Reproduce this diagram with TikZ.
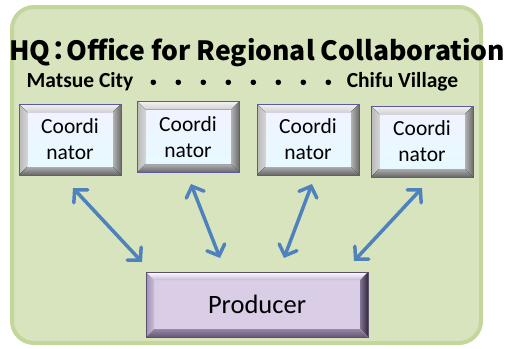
\documentclass[tikz,border=0pt]{standalone}
\usepackage{fontspec}
\usepackage{graphicx}
\setmainfont{Carlito}
\newfontfamily\cjk{Noto Sans CJK JP}
\usetikzlibrary{arrows.meta}
\definecolor{bgfill}{HTML}{D7E4BD}
\definecolor{bgline}{HTML}{C3D69B}
\definecolor{arrblue}{HTML}{4F81BD}
\tikzset{
  bev/.style n args={5}{% top left right bottom face-bottom
    path picture={
      \coordinate (@nw) at (path picture bounding box.north west);
      \coordinate (@ne) at (path picture bounding box.north east);
      \coordinate (@sw) at (path picture bounding box.south west);
      \coordinate (@se) at (path picture bounding box.south east);
      \fill[#1] (@nw) -- (@ne) -- ([xshift=-8pt,yshift=-8pt]@ne) -- ([xshift=8pt,yshift=-8pt]@nw) -- cycle;
      \fill[#2] (@nw) -- ([xshift=8pt,yshift=-8pt]@nw) -- ([xshift=8pt,yshift=8pt]@sw) -- (@sw) -- cycle;
      \fill[#3] (@ne) -- ([xshift=-8pt,yshift=-8pt]@ne) -- ([xshift=-8pt,yshift=8pt]@se) -- (@se) -- cycle;
      \fill[#4] (@sw) -- ([xshift=8pt,yshift=8pt]@sw) -- ([xshift=-8pt,yshift=8pt]@se) -- (@se) -- cycle;
    }},
  coordbox/.style={rectangle, minimum width=102pt, minimum height=71pt, inner sep=0pt,
    top color=blue!5!white, bottom color=blue!18!cyan!10!white,
    draw=gray!70!blue, line width=0.5pt, align=center, font=\fontsize{21.5}{26}\selectfont,
    bev={top color=gray!10, bottom color=gray!35}{left color=gray!55, right color=gray!35}{left color=gray!60, right color=gray!85!black}{top color=gray!65, bottom color=gray!80!black}{}},
  prodbox/.style={rectangle, minimum width=222pt, minimum height=65pt, inner sep=0pt,
    fill={rgb,255:red,217;green,206;blue,230}, draw={rgb,255:red,90;green,80;blue,110}, line width=0.5pt,
    font=\fontsize{26.5}{30}\selectfont,
    bev={top color=white, bottom color={rgb,255:red,200;green,185;blue,220}}{left color={rgb,255:red,160;green,145;blue,180}, right color={rgb,255:red,200;green,188;blue,215}}{left color={rgb,255:red,130;green,115;blue,150}, right color={rgb,255:red,50;green,42;blue,60}}{top color={rgb,255:red,150;green,135;blue,165}, bottom color={rgb,255:red,100;green,88;blue,115}}{}},
  arr/.style={draw=arrblue, line width=3.5pt, line cap=round,
    {Straight Barb[length=9pt, width=19pt, line cap=round]}-{Straight Barb[length=9pt, width=19pt, line cap=round]}},
  side/.style={font=\fontsize{21.5}{24}\selectfont\bfseries, inner sep=0pt},
  dotc/.style={fill=black}
}
\begin{document}
\begin{tikzpicture}[x=1pt,y=-1pt]
\useasboundingbox (0,0) rectangle (508,348);
\draw[line width=4pt, draw=bgline, fill=bgfill, rounded corners=22pt] (12,7) rectangle (481,343);
\node[inner sep=0pt, anchor=base west] (title) at (9,60) {\resizebox{496pt}{!}{\cjk\bfseries\fontsize{27}{30}\selectfont HQ\kern-5pt：\kern-6pt Office for Regional Collaboration}};
\node[side] (ms) at (80,82) {Matsue City};
\node[side] (cv) at (402.5,82) {Chifu Village};
\foreach \i/\x in {1/153.3,2/178.3,3/203.3,4/228.3,5/253.3,6/278.3,7/303.3,8/328.3}
  \fill[dotc] (\x,82.3) circle (2.8pt) coordinate (dot\i);
\node[coordbox] (c1) at (70,139.5) {Coordi\\nator};
\node[coordbox] (c2) at (188,137) {Coordi\\nator};
\node[coordbox] (c3) at (308,139.5) {Coordi\\nator};
\node[coordbox] (c4) at (422,141.5) {Coordi\\nator};
\node[prodbox] (p) at (257,304.5) {Producer};
\coordinate (a1s) at (73,188); \coordinate (a1e) at (142,262);
\coordinate (a2s) at (191,184); \coordinate (a2e) at (220,258);
\coordinate (a3s) at (312,184); \coordinate (a3e) at (284,258);
\coordinate (a4s) at (422,188); \coordinate (a4e) at (354,261);
\draw[arr] (a1s) -- (a1e);
\draw[arr] (a2s) -- (a2e);
\draw[arr] (a3s) -- (a3e);
\draw[arr] (a4s) -- (a4e);
\end{tikzpicture}
\end{document}
